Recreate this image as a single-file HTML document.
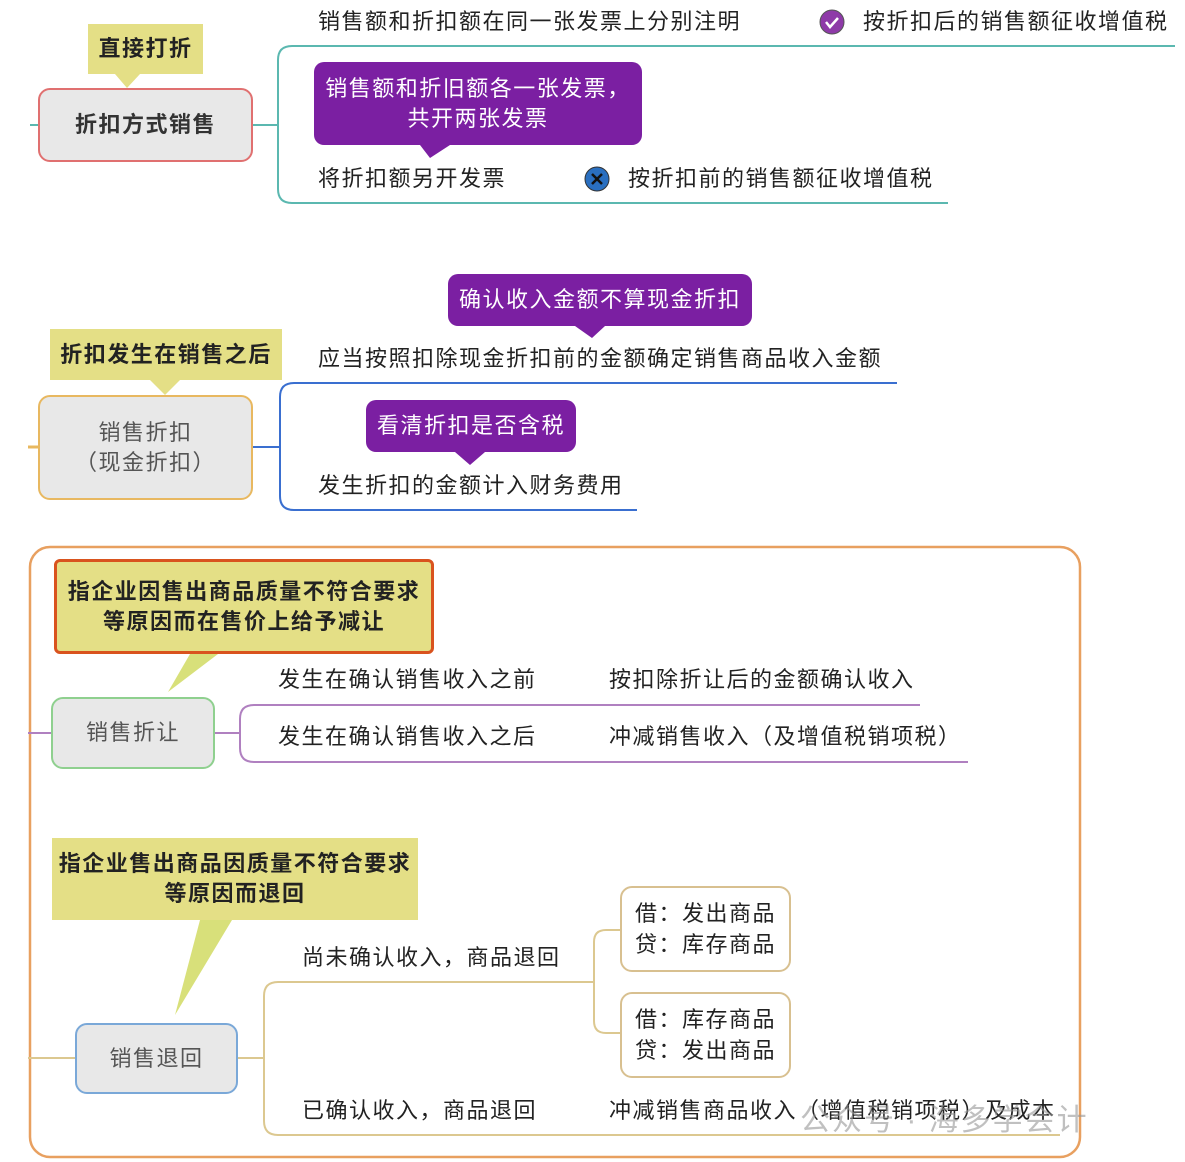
<!DOCTYPE html>
<html><head><meta charset="utf-8"><style>
html,body{margin:0;padding:0;background:#fff;}
body{width:1185px;height:1162px;position:relative;overflow:hidden;font-family:"Liberation Sans","Noto Sans CJK SC",sans-serif;color:#222;letter-spacing:1.5px;}
.t{position:absolute;font-size:22px;white-space:nowrap;line-height:24px;}
.b{position:absolute;box-sizing:border-box;display:flex;align-items:center;justify-content:center;text-align:center;white-space:nowrap;}
.y{background:#e4df86;font-weight:bold;font-size:22px;line-height:30px;}
.p{background:#7b1fa2;color:#fff;border-radius:10px;font-size:22px;line-height:30px;}
.g{background:#e8e8e8;border-radius:12px;font-size:22px;line-height:30px;}
svg{position:absolute;left:0;top:0;}
</style></head><body>
<svg width="1185" height="1162">
<g fill="none" stroke="#5bb8b0" stroke-width="2">
<path d="M30 125 H38"/><path d="M253 125 H278"/>
<path d="M1175 46 H292 Q278 46 278 60 V189 Q278 203 292 203 H948"/>
</g>
<g fill="none" stroke="#3a6fd0" stroke-width="2">
<path d="M253 447 H280"/>
<path d="M897 383 H294 Q280 383 280 397 V496 Q280 510 294 510 H637"/>
</g>
<path d="M28 447 H38" stroke="#e8b860" stroke-width="3"/>
<rect x="30" y="547" width="1050" height="610" rx="20" fill="none" stroke="#e8a060" stroke-width="2.5"/>
<g fill="none" stroke="#b080c0" stroke-width="2">
<path d="M28 733 H51"/><path d="M215 733 H240"/>
<path d="M920 705 H254 Q240 705 240 719 V748 Q240 762 254 762 H968"/>
</g>
<g fill="none" stroke="#dcc890" stroke-width="2">
<path d="M28 1058 H75"/><path d="M238 1058 H264"/>
<path d="M594 982 H278 Q264 982 264 996 V1121 Q264 1135 278 1135 H1060"/>
<path d="M620 930 H606 Q594 930 594 942 V1021 Q594 1033 606 1033 H620"/>
</g>
<polygon points="115,74 140,74 127,88" fill="#e4df86"/>
<polygon points="420,145 450,145 430,158" fill="#7b1fa2"/>
<polygon points="150,380 180,380 165,395" fill="#e4df86"/>
<polygon points="575,326 605,326 592,338" fill="#7b1fa2"/>
<polygon points="455,452 485,452 470,465" fill="#7b1fa2"/>
<polygon points="190,654 218,654 168,692" fill="#d8e07a"/>
<polygon points="200,920 232,920 175,1015" fill="#d8e07a"/>
<circle cx="832" cy="22" r="12" fill="#8e3aa8" stroke="#555" stroke-width="1"/>
<path d="M826 22 l4 5 l8 -9" stroke="#fff" stroke-width="2.5" fill="none"/>
<circle cx="597" cy="179" r="12" fill="#2a6fc0" stroke="#333" stroke-width="1"/>
<path d="M592 174 l10 10 M602 174 l-10 10" stroke="#111" stroke-width="2.5"/>
</svg>

<div class="b y" style="left:88px;top:24px;width:115px;height:50px;">直接打折</div>
<div class="b g" style="left:38px;top:88px;width:215px;height:74px;border:2px solid #e07070;font-weight:bold;color:#333;">折扣方式销售</div>
<div class="t" style="left:318px;top:10px;">销售额和折扣额在同一张发票上分别注明</div>
<div class="t" style="left:863px;top:10px;">按折扣后的销售额征收增值税</div>
<div class="b p" style="left:314px;top:62px;width:328px;height:83px;">销售额和折旧额各一张发票，<br>共开两张发票</div>
<div class="t" style="left:318px;top:167px;">将折扣额另开发票</div>
<div class="t" style="left:628px;top:167px;">按折扣前的销售额征收增值税</div>

<div class="b p" style="left:448px;top:274px;width:304px;height:52px;">确认收入金额不算现金折扣</div>
<div class="b y" style="left:50px;top:329px;width:232px;height:51px;">折扣发生在销售之后</div>
<div class="t" style="left:318px;top:347px;">应当按照扣除现金折扣前的金额确定销售商品收入金额</div>
<div class="b g" style="left:38px;top:395px;width:215px;height:105px;border:2px solid #e8b860;color:#555;">销售折扣<br>（现金折扣）</div>
<div class="b p" style="left:366px;top:400px;width:210px;height:52px;">看清折扣是否含税</div>
<div class="t" style="left:318px;top:474px;">发生折扣的金额计入财务费用</div>

<div class="b y" style="left:54px;top:559px;width:380px;height:95px;border:3px solid #d9531e;border-radius:6px;">指企业因售出商品质量不符合要求<br>等原因而在售价上给予减让</div>
<div class="t" style="left:278px;top:668px;">发生在确认销售收入之前</div>
<div class="t" style="left:609px;top:668px;">按扣除折让后的金额确认收入</div>
<div class="b g" style="left:51px;top:697px;width:164px;height:72px;border:2px solid #8fd08f;color:#555;">销售折让</div>
<div class="t" style="left:278px;top:725px;">发生在确认销售收入之后</div>
<div class="t" style="left:609px;top:725px;">冲减销售收入（及增值税销项税）</div>

<div class="b y" style="left:52px;top:838px;width:366px;height:82px;">指企业售出商品因质量不符合要求<br>等原因而退回</div>
<div class="b" style="left:620px;top:886px;width:171px;height:86px;border:2px solid #d8c090;border-radius:12px;font-size:22px;line-height:31px;">借：发出商品<br>贷：库存商品</div>
<div class="t" style="left:302px;top:946px;">尚未确认收入，商品退回</div>
<div class="b" style="left:620px;top:992px;width:171px;height:86px;border:2px solid #d8c090;border-radius:12px;font-size:22px;line-height:31px;">借：库存商品<br>贷：发出商品</div>
<div class="b g" style="left:75px;top:1023px;width:163px;height:71px;border:2px solid #7aa8d8;color:#555;">销售退回</div>
<div class="t" style="left:302px;top:1099px;">已确认收入，商品退回</div>
<div class="t" style="left:609px;top:1099px;">冲减销售商品收入（增值税销项税）及成本</div>
<div class="t" style="left:800px;top:1104px;font-size:30px;line-height:34px;letter-spacing:2px;color:rgba(150,150,150,0.6);">公众号 · 海多学会计</div>
</body></html>
